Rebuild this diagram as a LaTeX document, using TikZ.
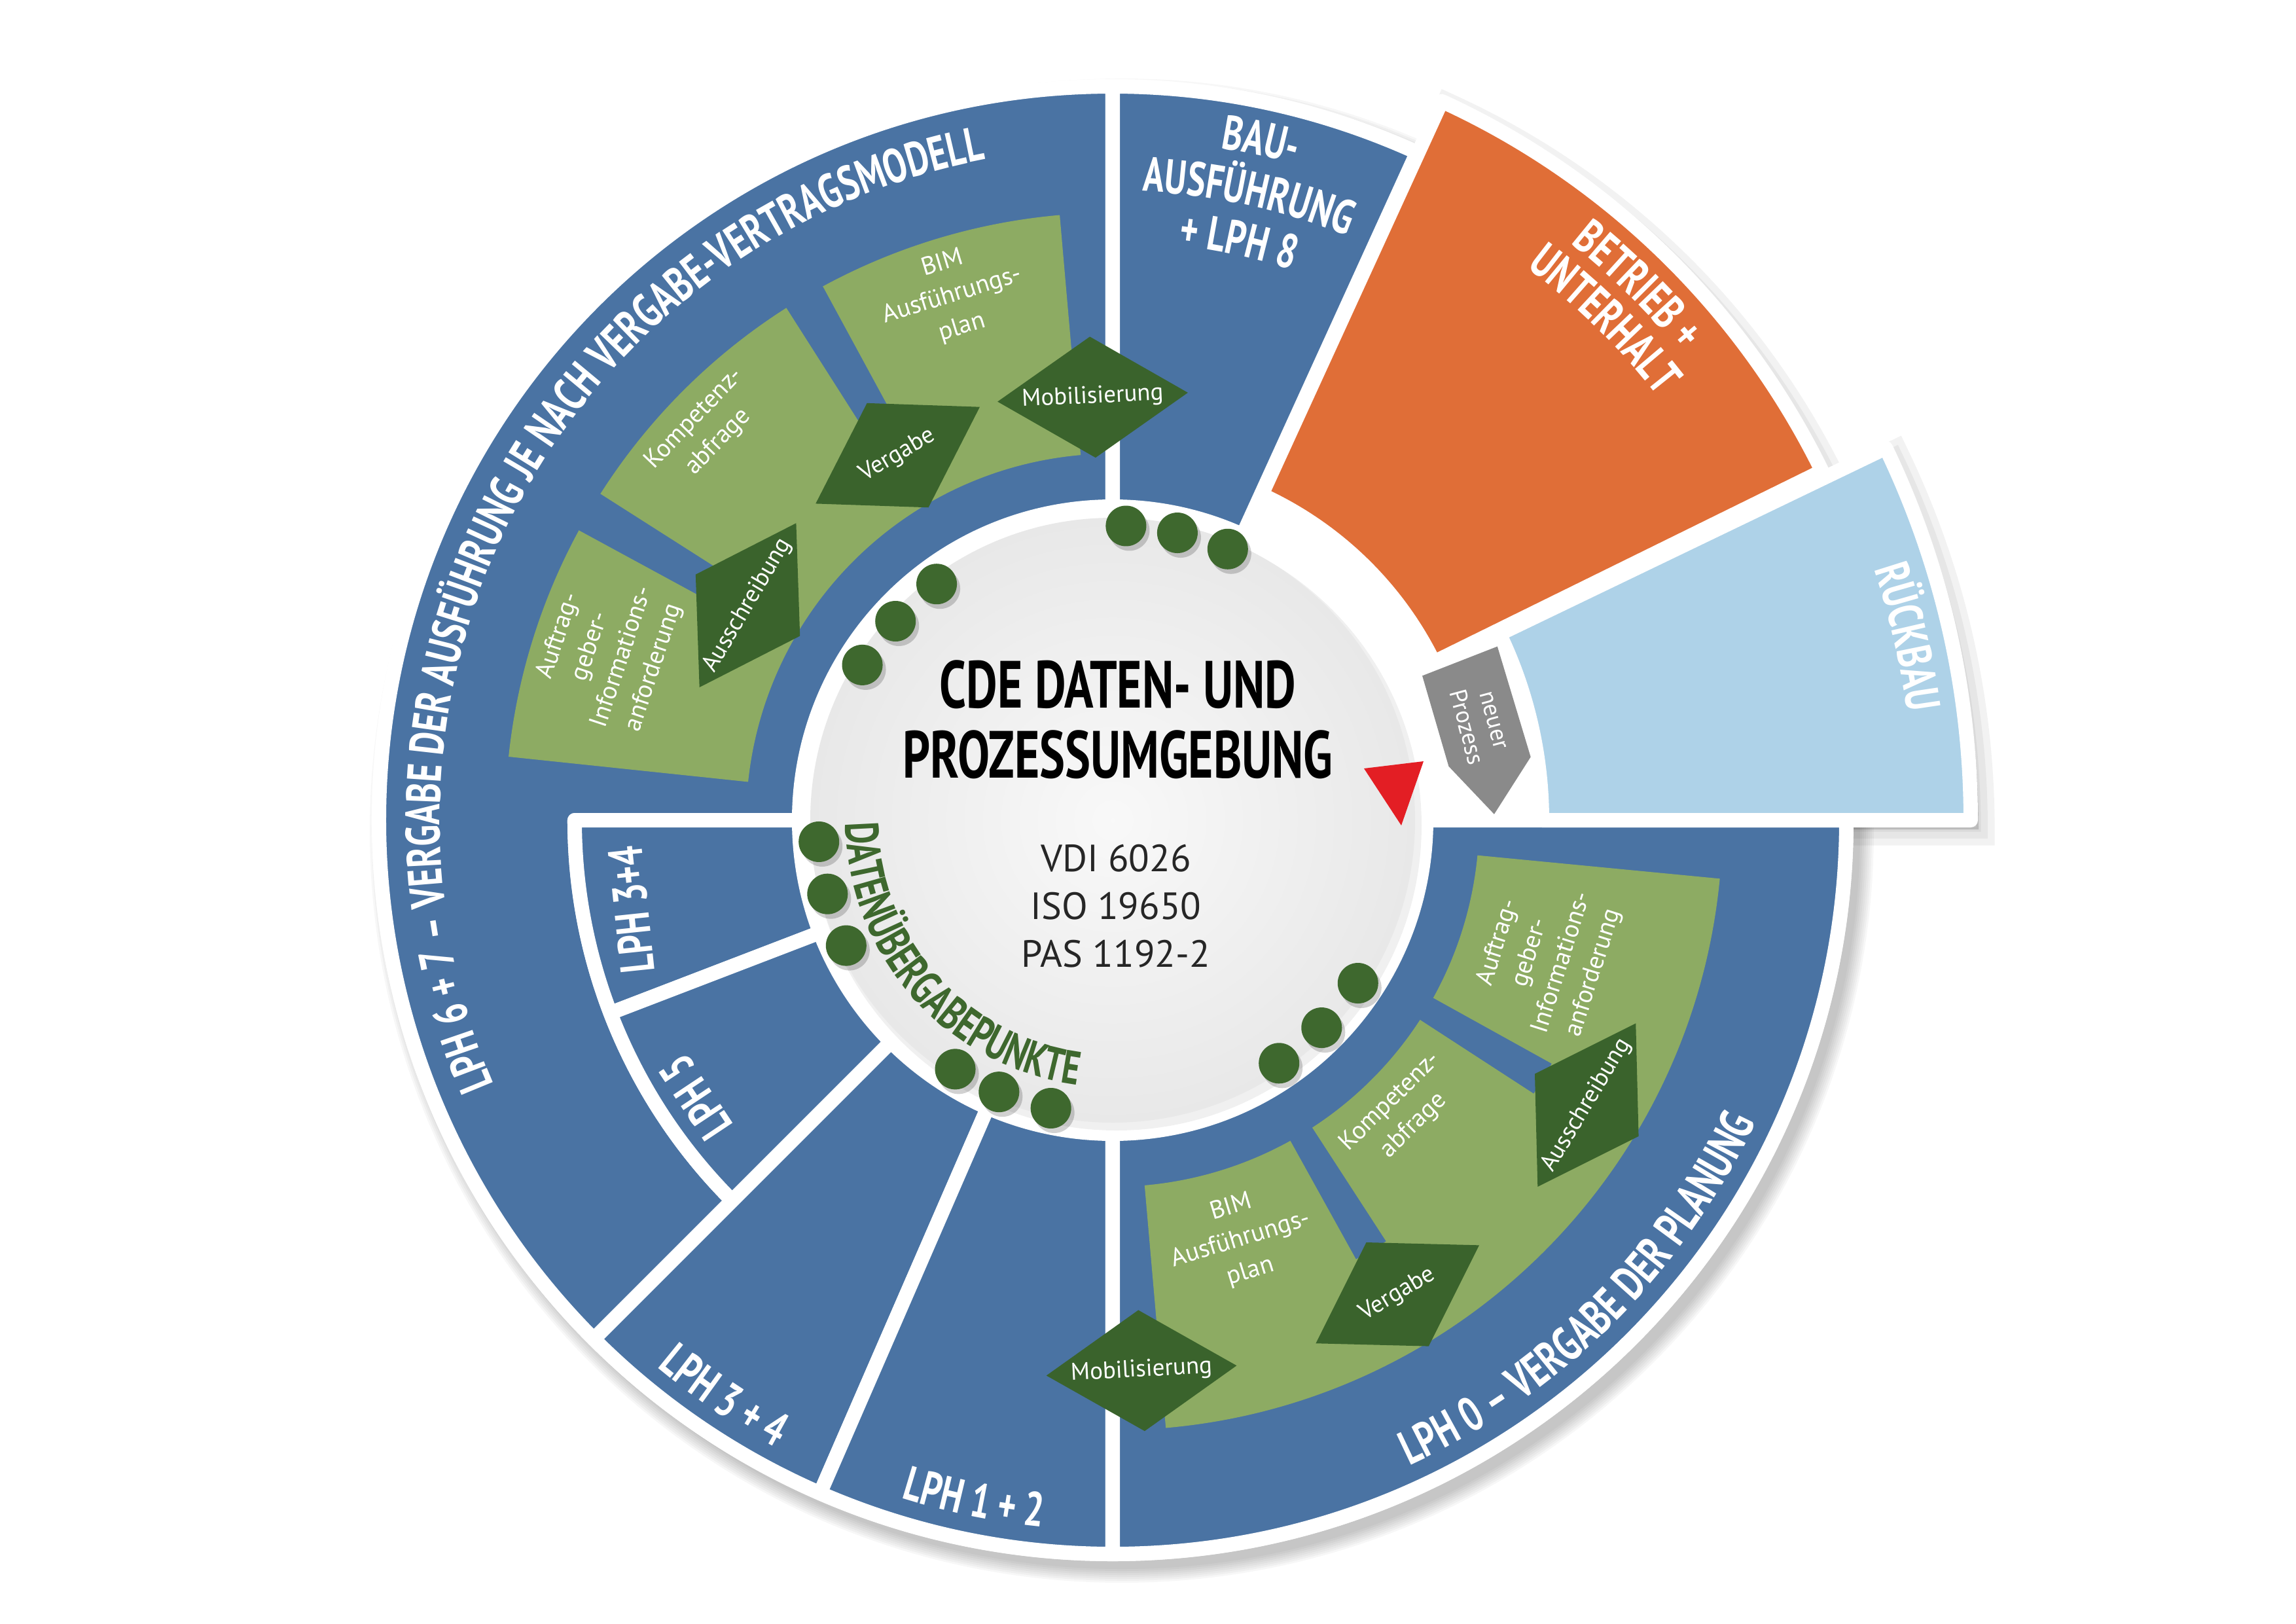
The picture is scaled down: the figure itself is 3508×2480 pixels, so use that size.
\documentclass[tikz,border=0pt]{standalone}
\usepackage{fontspec}
\setmainfont{PT Sans}
\newfontfamily\headfont[FakeStretch=0.72]{PT Sans}
\usetikzlibrary{shapes.geometric,decorations.text}

\definecolor{ringblue}{RGB}{74,115,163}
\definecolor{blockgreen}{RGB}{141,171,99}
\definecolor{gategreen}{RGB}{58,99,44}
\definecolor{dotgreen}{RGB}{62,104,46}
\definecolor{opsorange}{RGB}{224,110,55}
\definecolor{demoblue}{RGB}{174,210,232}
\definecolor{newgray}{RGB}{138,138,138}
\definecolor{markred}{RGB}{227,30,36}

\tikzset{every picture/.style={line width=0.75pt}}
\tikzset{
  segment/.style={fill=ringblue, draw=white, line width=6.26pt, line join=round},
  framed/.style={draw=white, line width=6.26pt, line join=round},
  block/.style={fill=blockgreen},
  gate/.style={diamond, aspect=1.57, fill=gategreen, text=white, inner sep=0pt,
    minimum width=2.92cm, minimum height=1.86cm, font=\fontsize{10.5}{12}\selectfont},
  blocklabel/.style={text=white, align=center, inner sep=0.75pt, font=\fontsize{11}{14.5}\selectfont},
  phaselabel/.style={text=white, inner sep=0.75pt, font=\headfont\bfseries\fontsize{21}{25}\selectfont},
  datapoint/.style={fill=dotgreen},
  softshadow/.style={fill=black, draw=black, opacity=0.05},
}

\begin{document}
\begin{tikzpicture}[x=0.01cm,y=0.01cm]
    \useasboundingbox (-1700,-1227) rectangle (1808,1253);

    %Shadow: ring
    \foreach \s in {0,...,7} {\fill[black, opacity=0.03] (14,-16) circle[radius=1128+3*\s];}
    %Shadow: Betrieb + Unterhalt
    \foreach \w in {2,8,14} {\path[softshadow, line width=\w pt, shift={(12,-14)}] (26.2:547) -- (26.2:1208) arc[start angle=26.2, end angle=65.4, radius=1208] -- (65.4:547) arc[start angle=65.4, end angle=26.2, radius=547] -- cycle;}
    %Shadow: Rueckbau
    \foreach \w in {2,8,14} {\path[softshadow, line width=\w pt, shift={(12,-14)}] (0:656) -- (0:1311) arc[start angle=0, end angle=25.7, radius=1311] -- (25.7:656) arc[start angle=25.7, end angle=0, radius=656] -- cycle;}
    %Backdrop
    \fill[white] (0,0) circle[radius=1132];

    %Shape: LPH 6+7
    \path[segment] (90:477) -- (90:1121) arc[start angle=90, end angle=225, radius=1121] -- (225:822) arc[start angle=225, end angle=180, radius=822] -- (180:477) arc[start angle=180, end angle=90, radius=477] -- cycle;
    %Shape: LPH 3+4 (inner)
    \path[segment] (180:477) -- (180:822) arc[start angle=180, end angle=201, radius=822] -- (201:477) arc[start angle=201, end angle=180, radius=477] -- cycle;
    %Shape: LPH 5
    \path[segment] (201:477) -- (201:822) arc[start angle=201, end angle=225, radius=822] -- (225:477) arc[start angle=225, end angle=201, radius=477] -- cycle;
    %Shape: LPH 3 + 4
    \path[segment] (225:477) -- (225:1121) arc[start angle=225, end angle=246.5, radius=1121] -- (246.5:477) arc[start angle=246.5, end angle=225, radius=477] -- cycle;
    %Shape: LPH 1 + 2
    \path[segment] (246.5:477) -- (246.5:1121) arc[start angle=246.5, end angle=270, radius=1121] -- (270:477) arc[start angle=270, end angle=246.5, radius=477] -- cycle;
    %Shape: LPH 0
    \path[segment] (270:477) -- (270:1121) arc[start angle=270, end angle=360, radius=1121] -- (0:477) arc[start angle=360, end angle=270, radius=477] -- cycle;
    %Shape: Bauausfuehrung
    \path[segment] (65.5:477) -- (65.5:1121) arc[start angle=65.5, end angle=90, radius=1121] -- (90:477) arc[start angle=90, end angle=65.5, radius=477] -- cycle;
    %Shape: Betrieb + Unterhalt
    \path[framed, fill=opsorange] (26.2:547) -- (26.2:1208) arc[start angle=26.2, end angle=65.4, radius=1208] -- (65.4:547) arc[start angle=65.4, end angle=26.2, radius=547] -- cycle;
    %Shape: Rueckbau
    \path[framed, fill=demoblue] (0:656) -- (0:1311) arc[start angle=0, end angle=25.7, radius=1311] -- (25.7:656) arc[start angle=25.7, end angle=0, radius=656] -- cycle;

    %Shape: green blocks, execution
    \fill[block] (174:560) -- (174:928) arc[start angle=174, end angle=151.5, radius=928] -- (151.5:722) arc[start angle=151.5, end angle=147.5, radius=722] -- (147.5:928) arc[start angle=147.5, end angle=122.5, radius=928] -- (122.5:722) arc[start angle=122.5, end angle=118.5, radius=722] -- (118.5:928) arc[start angle=118.5, end angle=95, radius=928] -- (95:560) arc[start angle=95, end angle=174, radius=560] -- cycle;
    %Shape: green blocks, planning
    \fill[block] (-5.5:560) -- (-5.5:932) arc[start angle=-5.5, end angle=-85, radius=932] -- (-85:560) arc[start angle=-85, end angle=-61, radius=560] -- (-61:767) arc[start angle=-61, end angle=-57, radius=767] -- (-57:560) arc[start angle=-57, end angle=-33, radius=560] -- (-33:767) arc[start angle=-33, end angle=-29, radius=767] -- (-29:560) arc[start angle=-29, end angle=-5.5, radius=560] -- cycle;

    %Shape: CDE disk
    \fill[white] (0,0) circle[radius=490];
    \fill[black, opacity=0.06] (6,-8) circle[radius=466];
    \shade[inner color=gray!5, outer color=gray!18] (0,0) circle[radius=462];

    %Shape: data transfer points
    \foreach \a in {87.4,77.3,67,126.7,137.5,148.2,184.2,194.5,205.2,237.7,247.3,257.9,-33.6,-44.8,-55.6} {
        \fill[black, opacity=0.18, shift={(5,-7)}] (\a:450) circle[radius=31];
        \fill[datapoint] (\a:450) circle[radius=31];
    }

    %Shape: neuer Prozess
    \fill[newgray] (25:522) -- (24.3:645) -- (8.6:646) -- (0.9:583) -- (9.1:520) -- cycle;
    %Shape: red marker
    \fill[markred] (384,79) -- (475,90) -- (441,-8) -- cycle;

    % Text Node
    \node[gate, rotate=59.5] (ausA) at (149.5:647) {Ausschreibung};
    % Text Node
    \node[gate, rotate=30.5] (vergA) at (120.5:647) {Vergabe};
    % Text Node
    \node[gate, rotate=2.7] (mobA) at (92.7:647) {Mobilisierung};
    % Text Node
    \node[gate, rotate=59] (ausB) at (-31:845) {Ausschreibung};
    % Text Node
    \node[gate, rotate=31] (vergB) at (-59:845) {Vergabe};
    % Text Node
    \node[gate, rotate=3] (mobB) at (-87:842) {Mobilisierung};

    % Text Node
    \node[blocklabel, rotate=71.6] (auftragA) at (161.6:815) {Auftrag-\\geber-\\Informations-\\anforderung};
    % Text Node
    \node[blocklabel, rotate=46.2] (kompA) at (136.2:860) {Kompetenz-\\abfrage};
    % Text Node
    \node[blocklabel, rotate=17] (bimA) at (107:838) {BIM\\Ausführungs-\\plan};
    % Text Node
    \node[blocklabel, rotate=72.4] (auftragB) at (-17.6:695) {Auftrag-\\geber-\\Informations-\\anforderung};
    % Text Node
    \node[blocklabel, rotate=44.6] (kompB) at (-45.4:630) {Kompetenz-\\abfrage};
    % Text Node
    \node[blocklabel, rotate=17] (bimB) at (-73:670) {BIM\\Ausführungs-\\plan};

    % Text Node
    \node[phaselabel, rotate=96] (lphsmall) at (190.5:748) {LPH 3+4};
    % Text Node
    \node[phaselabel, rotate=123.6] (lphfive) at (213.6:765) {LPH 5};
    % Text Node
    \node[blocklabel, rotate=-75, font=\fontsize{10.5}{12.5}\selectfont] (newproc) at (14.7:579) {neuer\\Prozess};

    % Text Node
    \node[inner sep=0.75pt, align=center, font=\headfont\bfseries\fontsize{29}{30.5}\selectfont] (cdetitle) at (8,154) {CDE DATEN- UND\\PROZESSUMGEBUNG};
    % Text Node
    \node[inner sep=0.75pt, align=center, text=black!85, font=\fontsize{16.5}{20.8}\selectfont] (cdenorms) at (5,-131) {VDI 6026\\ISO 19650\\PAS 1192-2};

    % Arc Text
    \path[decorate, decoration={text along path, text align=center, text={|\headfont\bfseries\fontsize{21}{25}\selectfont\color{white}|LPH 6 + 7 – VERGABE DER AUSFÜHRUNG JE NACH VERGABE-VERTRAGSMODELL}}] (215:1028) arc[start angle=215, end angle=89, radius=1028];
    % Arc Text
    \path[decorate, decoration={text along path, text align=center, text={|\headfont\bfseries\fontsize{21}{25}\selectfont\color{white}|LPH 0 – VERGABE DER PLANUNG}}] (-90:1085) arc[start angle=-90, end angle=-0.5, radius=1085];
    % Arc Text
    \path[decorate, decoration={text along path, text align=center, text={|\headfont\bfseries\fontsize{21}{25}\selectfont\color{white}|LPH 3 + 4}}] (226:1088) arc[start angle=226, end angle=246, radius=1088];
    % Arc Text
    \path[decorate, decoration={text along path, text align=center, text={|\headfont\bfseries\fontsize{21}{25}\selectfont\color{white}|LPH 1 + 2}}] (248.5:1085) arc[start angle=248.5, end angle=268.5, radius=1085];
    % Arc Text
    \path[decorate, decoration={text along path, text align=center, text={|\headfont\bfseries\fontsize{21}{25}\selectfont\color{white}|BAU-}}] (95:1040) arc[start angle=95, end angle=60.4, radius=1040];
    % Arc Text
    \path[decorate, decoration={text along path, text align=center, text={|\headfont\bfseries\fontsize{21}{25}\selectfont\color{white}|AUSFÜHRUNG}}] (97:962) arc[start angle=97, end angle=58.4, radius=962];
    % Arc Text
    \path[decorate, decoration={text along path, text align=center, text={|\headfont\bfseries\fontsize{21}{25}\selectfont\color{white}|+ LPH 8}}] (97:884) arc[start angle=97, end angle=58.4, radius=884];
    % Arc Text
    \path[decorate, decoration={text along path, text align=center, text={|\headfont\bfseries\fontsize{21}{25}\selectfont\color{white}|BETRIEB +}}] (70:1125) arc[start angle=70, end angle=21, radius=1125];
    % Arc Text
    \path[decorate, decoration={text along path, text align=center, text={|\headfont\bfseries\fontsize{21}{25}\selectfont\color{white}|UNTERHALT}}] (70:1055) arc[start angle=70, end angle=21, radius=1055];
    % Arc Text
    \path[decorate, decoration={text along path, text align=center, text={|\headfont\bfseries\fontsize{21}{25}\selectfont\color{white}|RÜCKBAU}}] (30:1225) arc[start angle=30, end angle=-4, radius=1225];
    % Arc Text
    \path[decorate, decoration={text along path, text align=center, text={|\headfont\bfseries\fontsize{20.5}{24}\selectfont\color{dotgreen}|DATENÜBERGABEPUNKTE}}] (160:408) arc[start angle=160, end angle=283, radius=408];
\end{tikzpicture}
\end{document}
